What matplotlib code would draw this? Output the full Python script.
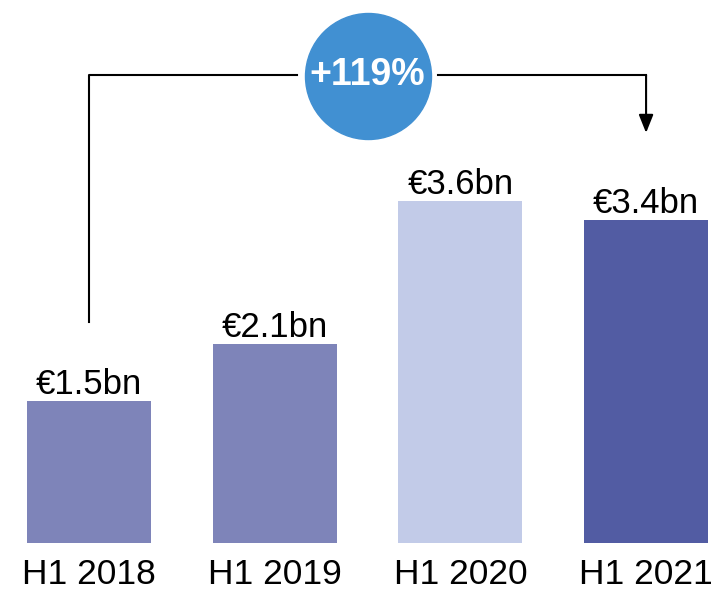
import matplotlib
matplotlib.use("Agg")
import matplotlib.pyplot as plt
import numpy as np

plt.rcParams['font.family'] = ['Liberation Sans', 'DejaVu Sans']

periods = ["H1 2018", "H1 2019", "H1 2020", "H1 2021"]
values = [1.5, 2.1, 3.6, 3.4]
value_labels = ["€1.5bn", "€2.1bn", "€3.6bn", "€3.4bn"]
growth_label = "+119%"
colors = ["#7e84b9", "#7e84b9", "#c2cbe8", "#525ca3"]

fig = plt.figure(figsize=(7.12, 5.92), dpi=100)
ax = fig.add_axes([0, 49 / 592, 1, 543 / 592])

x = np.arange(len(values))
ax.bar(x, values, width=0.667, color=colors)

# value labels above bars
for xi, v, lab in zip(x, values, value_labels):
    ax.annotate(lab, (xi, v), xytext=(0, 5), textcoords="offset points",
                ha="center", va="baseline", fontsize=25, color="black")

ax.set_xlim(-0.479, 3.355)
ax.set_ylim(0, 5.72)
ax.set_xticks(x)
ax.set_xticklabels(periods, fontsize=25.5)
ax.tick_params(axis="x", length=0, pad=10.5)
ax.set_yticks([])
for s in ax.spines.values():
    s.set_visible(False)

# growth bracket from first to last bar
top = 4.93
mid = (x[0] + x[-1]) / 2
gap = 0.38
ax.plot([x[0], x[0], mid - gap], [values[0] + 0.83, top, top], color="black", lw=1.5)
ax.plot([mid + gap, x[-1]], [top, top], color="black", lw=1.5)
ax.annotate("", xy=(x[-1], values[-1] + 0.92), xytext=(x[-1], top),
            arrowprops=dict(arrowstyle="-|>,head_length=0.55,head_width=0.22",
                            mutation_scale=20, color="black", lw=1.5,
                            shrinkA=0, shrinkB=0))
ax.scatter([mid], [top - 0.01], s=8230, color="#4190d2", zorder=3, clip_on=False)
ax.text(mid, top, growth_label, ha="center", va="center", fontsize=27,
        fontweight="bold", color="white", zorder=4)

fig.savefig("out.png", dpi=100)
